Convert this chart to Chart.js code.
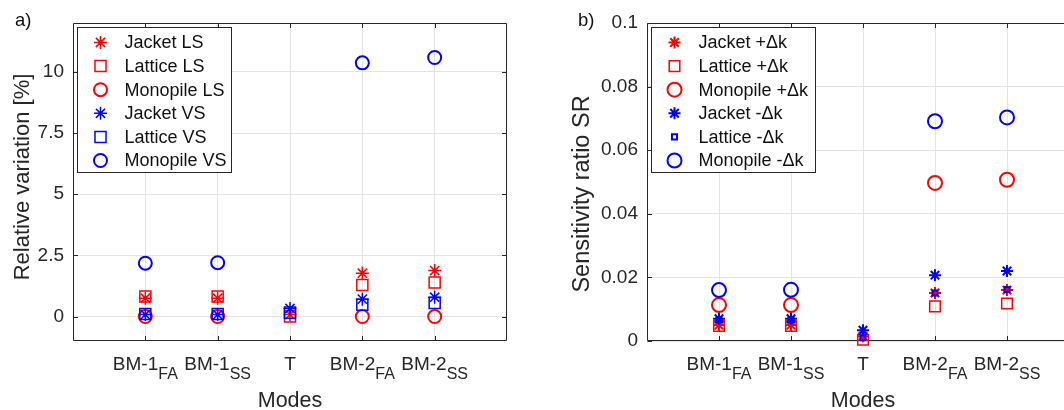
<!DOCTYPE html>
<html>
<head>
<meta charset="utf-8">
<script src="https://cdn.jsdelivr.net/npm/chart.js"></script>
<style>
html,body{margin:0;padding:0;overflow:hidden;background:#fff;}
#wrap{position:relative;width:1064px;height:410px;overflow:hidden;}
#c1{position:absolute;left:0;top:0;}
#c2{position:absolute;left:540px;top:0;}
</style>
</head>
<body>
<div id="wrap">
<canvas id="c1" width="540" height="410"></canvas>
<canvas id="c2" width="560" height="410"></canvas>
</div>
<script>
// ---------- data ----------
const modeNames = ['BM-1', 'BM-1', 'T', 'BM-2', 'BM-2'];
const modeSubs  = ['FA', 'SS', '', 'FA', 'SS'];
const modeX     = [1, 2, 3, 4, 5];

// a) relative variation [%]
const jacketLS   = [0.75, 0.75, 0.08, 1.77, 1.88];
const latticeLS  = [0.82, 0.82, 0.00, 1.29, 1.39];
const monopileLS = [0.00, 0.00, null, 0.00, 0.00];
const jacketVS   = [0.08, 0.08, 0.33, 0.71, 0.79];
const latticeVS  = [0.10, 0.10, 0.16, 0.48, 0.55];
const monopileVS = [2.18, 2.20, null, 10.37, 10.59];
const yTicksA = [0, 2.5, 5, 7.5, 10];
const yTickLabelsA = ['0', '2.5', '5', '7.5', '10'];

// b) sensitivity ratio SR
const jacketPlus    = [0.0050, 0.0050, 0.0015, 0.0151, 0.0160];
const latticePlus   = [0.0047, 0.0047, 0.0004, 0.0109, 0.0118];
const monopilePlus  = [0.0113, 0.0113, null, 0.0497, 0.0507];
const jacketMinus   = [0.0070, 0.0070, 0.0034, 0.0207, 0.0220];
const latticeMinus  = [0.0066, 0.0066, 0.0010, 0.0151, 0.0162];
const monopileMinus = [0.0160, 0.0161, null, 0.0691, 0.0703];
const yTicksB = [0, 0.02, 0.04, 0.06, 0.08, 0.1];
const yTickLabelsB = ['0', '0.02', '0.04', '0.06', '0.08', '0.1'];

// ---------- helpers ----------
const FONT = "'Liberation Sans', Arial, Helvetica, sans-serif";
const AX = '#262626';
const RED = '#ff0000', BLUE = '#0000ff';
const TICK_PX = 19, SUB_PX = 16, LEG_PX = 18;

function pts(arr) {
  const out = [];
  arr.forEach((v, i) => { if (v !== null) out.push({x: modeX[i], y: v}); });
  return out;
}
function ds(label, arr, color, style, radius, bw, idx) {
  return {
    label, data: pts(arr), showLine: false, clip: false,
    pointStyle: style, pointRadius: radius, pointHoverRadius: radius,
    pointBorderColor: color, pointBackgroundColor: 'rgba(0,0,0,0)',
    pointBorderWidth: bw, pointHoverBorderWidth: bw,
    order: 10 - idx
  };
}

function drawMarker(ctx, d, x, y) {
  ctx.save();
  ctx.strokeStyle = d.pointBorderColor;
  ctx.fillStyle = 'rgba(0,0,0,0)';
  ctx.lineWidth = d.pointBorderWidth;
  if (Chart.helpers && Chart.helpers.drawPoint) {
    Chart.helpers.drawPoint(ctx, {pointStyle: d.pointStyle, radius: d.pointRadius, rotation: 0, borderWidth: d.pointBorderWidth}, x, y);
  }
  ctx.restore();
}

function makePlugin(cfg) {
  return {
    id: 'deco' + cfg.tag,
    beforeDatasetsDraw(chart) {
      const {ctx, chartArea: a, scales} = chart;
      ctx.save();
      ctx.strokeStyle = AX; ctx.lineWidth = 1;
      const L = Math.round(a.left) + 0.5, R = Math.round(a.right) - 0.5;
      const T = Math.round(a.top) + 0.5, B = Math.round(a.bottom) - 0.5;
      ctx.beginPath();
      ctx.rect(L, T, R - L, B - T);
      const tl = 4.5;
      scales.x.ticks.forEach(t => {
        const px = Math.round(scales.x.getPixelForValue(t.value)) + 0.5;
        ctx.moveTo(px, B); ctx.lineTo(px, B - tl);
        ctx.moveTo(px, T); ctx.lineTo(px, T + tl);
      });
      scales.y.ticks.forEach(t => {
        const py = Math.round(scales.y.getPixelForValue(t.value)) + 0.5;
        ctx.moveTo(L, py); ctx.lineTo(L + tl, py);
        ctx.moveTo(R, py); ctx.lineTo(R - tl, py);
      });
      ctx.stroke();
      ctx.restore();
    },
    afterDatasetsDraw(chart) {
      const {ctx, chartArea: a} = chart;
      // legend
      const bx = Math.round(a.left) + 4.5, by = Math.round(a.top) + 4.5;
      const bw = cfg.legendW, bh = 145;
      ctx.save();
      ctx.fillStyle = '#fff';
      ctx.fillRect(bx, by, bw, bh);
      ctx.strokeStyle = AX; ctx.lineWidth = 1;
      ctx.strokeRect(bx, by, bw, bh);
      ctx.font = LEG_PX + 'px ' + FONT;
      ctx.fillStyle = '#111';
      ctx.textBaseline = 'middle';
      ctx.textAlign = 'left';
      chart.data.datasets.forEach((d, i) => {
        const yy = by + 15 + i * 23.6;
        drawMarker(ctx, d, bx + 23, yy);
        ctx.fillText(d.label, bx + 47, yy + 1);
      });
      ctx.restore();
    },
    afterDraw(chart) {
      const {ctx, chartArea: a, scales} = chart;
      ctx.save();
      ctx.fillStyle = AX;
      // x tick labels with subscripts
      modeX.forEach((xv, i) => {
        const cx = scales.x.getPixelForValue(xv);
        ctx.font = TICK_PX + 'px ' + FONT;
        const w1 = ctx.measureText(modeNames[i]).width;
        ctx.font = SUB_PX + 'px ' + FONT;
        const w2 = modeSubs[i] ? ctx.measureText(modeSubs[i]).width : 0;
        const x0 = cx - (w1 + w2) / 2;
        ctx.textAlign = 'left'; ctx.textBaseline = 'alphabetic';
        ctx.font = TICK_PX + 'px ' + FONT;
        ctx.fillText(modeNames[i], x0, 369.5);
        if (modeSubs[i]) {
          ctx.font = SUB_PX + 'px ' + FONT;
          ctx.fillText(modeSubs[i], x0 + w1, 378.5);
        }
      });
      // x title
      ctx.font = '21.5px ' + FONT;
      ctx.textAlign = 'center';
      ctx.fillText('Modes', (a.left + a.right) / 2, 406.5);
      // y title
      ctx.save();
      ctx.font = cfg.yTitlePx + 'px ' + FONT;
      ctx.translate(cfg.yTitleX, cfg.yTitleY);
      ctx.rotate(-Math.PI / 2);
      ctx.textBaseline = 'middle';
      ctx.fillText(cfg.yTitle, 0, 0);
      ctx.restore();
      // panel letter
      ctx.font = '18.5px ' + FONT;
      ctx.textAlign = 'left'; ctx.textBaseline = 'alphabetic';
      ctx.fillStyle = '#111';
      ctx.fillText(cfg.letter, cfg.letterX, 26);
      ctx.restore();
    }
  };
}

function makeChart(id, datasets, cfg) {
  return new Chart(document.getElementById(id), {
    type: 'scatter',
    data: {datasets},
    options: {
      responsive: false, animation: false, events: [],
      devicePixelRatio: 1,
      layout: {padding: {left: 0, top: 23, right: cfg.padRight, bottom: 0}},
      plugins: {legend: {display: false}, tooltip: {enabled: false}},
      scales: {
        x: {
          type: 'linear', min: 0, max: 6,
          afterBuildTicks: s => { s.ticks = modeX.map(v => ({value: v})); },
          afterFit: s => { s.height = 69; },
          ticks: {display: false},
          grid: {color: '#e3e3e3', lineWidth: 1, drawTicks: false},
          border: {display: false}
        },
        y: {
          type: 'linear', min: cfg.yMin, max: cfg.yMax,
          afterBuildTicks: s => { s.ticks = cfg.yTicks.map(v => ({value: v})); },
          afterFit: s => { s.width = cfg.yWidth; },
          ticks: {
            color: AX, padding: 9,
            font: {family: FONT, size: TICK_PX},
            callback: (v) => { const k = cfg.yTicks.indexOf(v); return k >= 0 ? cfg.yLabels[k] : ''; }
          },
          grid: {color: '#e3e3e3', lineWidth: 1, drawTicks: false},
          border: {display: false}
        }
      }
    },
    plugins: [makePlugin(cfg)]
  });
}

const dsA = [
  ds('Jacket LS',   jacketLS,   RED,  'star',   6.5, 1.5, 0),
  ds('Lattice LS',  latticeLS,  RED,  'rect',   7.8, 1.5, 1),
  ds('Monopile LS', monopileLS, RED,  'circle', 6.5, 2,   2),
  ds('Jacket VS',   jacketVS,   BLUE, 'star',   6.5, 1.5, 3),
  ds('Lattice VS',  latticeVS,  BLUE, 'rect',   7.8, 1.5, 4),
  ds('Monopile VS', monopileVS, BLUE, 'circle', 6.5, 2,   5)
];
const dsB = [
  ds('Jacket +\u0394k',    jacketPlus,    RED,  'star',   6,   2,   0),
  ds('Lattice +\u0394k',   latticePlus,   RED,  'rect',   7.5, 1.5, 1),
  ds('Monopile +\u0394k',  monopilePlus,  RED,  'circle', 7,   2,   2),
  ds('Jacket -\u0394k',    jacketMinus,   BLUE, 'star',   6,   2,   3),
  ds('Lattice -\u0394k',   latticeMinus,  BLUE, 'rect',   3.6, 2,   4),
  ds('Monopile -\u0394k',  monopileMinus, BLUE, 'circle', 7,   2,   5)
];

makeChart('c1', dsA, {
  tag: 'A', padRight: 33, yWidth: 73, yMin: -1, yMax: 12,
  yTicks: yTicksA, yLabels: yTickLabelsA, legendW: 154,
  yTitle: 'Relative variation [%]', yTitlePx: 22, yTitleX: 23, yTitleY: 177,
  letter: 'a)', letterX: 15
});
makeChart('c2', dsB, {
  tag: 'B', padRight: 21, yWidth: 107, yMin: 0, yMax: 0.1,
  yTicks: yTicksB, yLabels: yTickLabelsB, legendW: 164,
  yTitle: 'Sensitivity ratio SR', yTitlePx: 23.5, yTitleX: 43, yTitleY: 194,
  letter: 'b)', letterX: 38
});
</script>
</body>
</html>
